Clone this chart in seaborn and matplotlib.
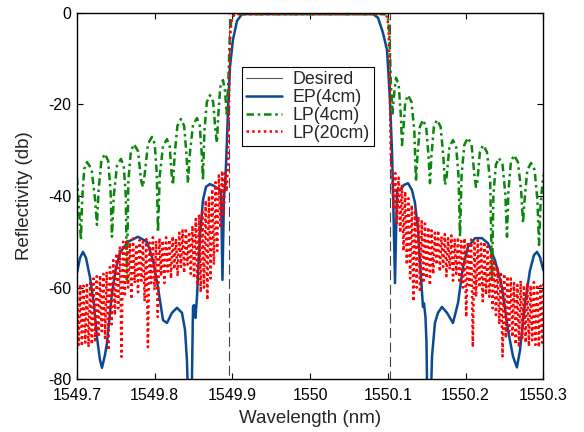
import numpy as np
import pandas as pd
import matplotlib
matplotlib.use("Agg")
import matplotlib.pyplot as plt
from matplotlib.lines import Line2D
import seaborn as sns

# ---- data (wavelength in nm, reflectivity in dB) ----

# ideal rectangular response (-inf outside the band, drawn below the axis)
DESIRED_X = [1549.8960, 1549.8960, 1550.1025, 1550.1025]
DESIRED_Y = [-100, 0, 0, -100]

# EP(4cm)
EP_X = [1549.7000, 1549.7039, 1549.7077, 1549.7116, 1549.7167, 1549.7219, 1549.7257,
        1549.7296, 1549.7322, 1549.7360, 1549.7386, 1549.7450, 1549.7502, 1549.7553,
        1549.7656, 1549.7785, 1549.7901, 1549.7978, 1549.8042, 1549.8107, 1549.8158,
        1549.8222, 1549.8287, 1549.8351, 1549.8390, 1549.8415, 1549.8435, 1549.8473,
        1549.8486, 1549.8493, 1549.8505, 1549.8525, 1549.8544, 1549.8583, 1549.8621,
        1549.8660, 1549.8711, 1549.8763, 1549.8801, 1549.8853, 1549.8872, 1549.8891,
        1549.8911, 1549.8930, 1549.8943, 1549.8969, 1549.9007, 1549.9059, 1549.9123,
        1550.0809, 1550.0873, 1550.0937, 1550.0989, 1550.1027, 1550.1053, 1550.1066,
        1550.1092, 1550.1117, 1550.1156, 1550.1208, 1550.1259, 1550.1310, 1550.1349,
        1550.1388, 1550.1426, 1550.1452, 1550.1465, 1550.1484, 1550.1497, 1550.1510,
        1550.1548, 1550.1568, 1550.1606, 1550.1645, 1550.1696, 1550.1761, 1550.1838,
        1550.1902, 1550.1967, 1550.2031, 1550.2121, 1550.2211, 1550.2288, 1550.2378,
        1550.2468, 1550.2546, 1550.2610, 1550.2661, 1550.2700, 1550.2764, 1550.2829,
        1550.2880, 1550.2919, 1550.2957, 1550.3000]
EP_Y = [-56.8, -53.5, -52.2, -53.5, -57.7, -63.8, -70.8,
        -75.8, -77.5, -74.7, -72.1, -61.2, -55.7, -52.4,
        -50.0, -48.9, -50.0, -54.0, -59.9, -67.1, -67.7,
        -65.5, -64.4, -65.5, -69.2, -75.8, -88.0, -88.0,
        -72.0, -64.2, -63.8, -66.6, -62.0, -48.5, -40.9,
        -38.0, -37.4, -37.8, -38.3, -38.7, -58.3, -40.5,
        -36.0, -27.8, -21.2, -11.8, -5.9, -1.8, -0.3,
        -0.3, -1.1, -4.4, -8.1, -19.0, -30.0, -38.7,
        -59.0, -38.7, -38.7, -37.6, -37.2, -38.7, -41.5,
        -47.4, -57.7, -64.2, -63.4, -66.4, -72.0, -88.0,
        -88.0, -75.0, -67.7, -65.5, -64.2, -65.5, -67.7,
        -63.4, -55.5, -51.1, -49.2, -49.2, -50.3, -54.0,
        -59.9, -69.3, -75.0, -77.4, -73.7, -63.4, -56.2,
        -52.9, -52.2, -53.3, -56.2]

# LP(4cm)
LP4_X = [1549.7000, 1549.7051, 1549.7067, 1549.7094, 1549.7129, 1549.7187, 1549.7232,
         1549.7257, 1549.7278, 1549.7314, 1549.7360, 1549.7401, 1549.7432, 1549.7450,
         1549.7474, 1549.7515, 1549.7566, 1549.7601, 1549.7628, 1549.7643, 1549.7661,
         1549.7694, 1549.7733, 1549.7785, 1549.7826, 1549.7849, 1549.7872, 1549.7914,
         1549.7965, 1549.8000, 1549.8027, 1549.8042, 1549.8065, 1549.8107, 1549.8158,
         1549.8193, 1549.8220, 1549.8235, 1549.8256, 1549.8292, 1549.8338, 1549.8379,
         1549.8410, 1549.8428, 1549.8451, 1549.8493, 1549.8544, 1549.8579, 1549.8606,
         1549.8621, 1549.8639, 1549.8671, 1549.8711, 1549.8753, 1549.8783, 1549.8801,
         1549.8817, 1549.8844, 1549.8879, 1549.8904, 1549.8926, 1549.8945, 1549.8956,
         1549.8966, 1549.8985, 1549.9030,
         1550.0960, 1550.1005, 1550.1020, 1550.1030, 1550.1040, 1550.1060, 1550.1085,
         1550.1105, 1550.1139, 1550.1166, 1550.1182, 1550.1197, 1550.1224, 1550.1259,
         1550.1305, 1550.1341, 1550.1362, 1550.1380, 1550.1412, 1550.1452, 1550.1493,
         1550.1524, 1550.1542, 1550.1560, 1550.1592, 1550.1632, 1550.1679, 1550.1714,
         1550.1735, 1550.1756, 1550.1792, 1550.1838, 1550.1879, 1550.1910, 1550.1928,
         1550.1949, 1550.1985, 1550.2031, 1550.2077, 1550.2113, 1550.2134, 1550.2152,
         1550.2184, 1550.2224, 1550.2275, 1550.2317, 1550.2340, 1550.2358, 1550.2390,
         1550.2430, 1550.2476, 1550.2512, 1550.2533, 1550.2551, 1550.2583, 1550.2623,
         1550.2674, 1550.2716, 1550.2739, 1550.2759, 1550.2795, 1550.2842, 1550.2888,
         1550.2924, 1550.2945, 1550.2964, 1550.3000]
LP4_Y = [-35.9, -49.6, -40.6, -34.1, -32.6, -34.1, -40.6,
         -46.3, -38.8, -32.3, -30.8, -32.3, -38.8, -48.9,
         -39.9, -33.4, -31.9, -33.4, -39.9, -58.3, -36.7,
         -30.2, -28.7, -30.2, -36.7, -38.0, -35.1, -28.6,
         -27.1, -28.6, -35.1, -47.9, -35.6, -29.1, -27.6,
         -29.1, -35.6, -37.6, -31.2, -24.7, -23.2, -24.7,
         -31.2, -37.2, -31.0, -24.5, -23.0, -24.5, -31.0,
         -36.5, -26.0, -19.5, -18.0, -19.5, -26.0, -28.4,
         -22.7, -16.2, -14.7, -17.0, -22.0, -16.0, -10.0,
         -5.0, -1.5, -0.3,
         -0.3, -1.5, -5.0, -10.0, -16.0, -22.0, -17.0,
         -14.2, -15.7, -22.2, -28.9, -26.0, -19.5, -18.0,
         -19.5, -26.0, -36.9, -31.4, -24.9, -23.4, -24.9,
         -31.4, -37.2, -31.4, -24.9, -23.4, -24.9, -31.4,
         -37.6, -35.8, -29.3, -27.8, -29.3, -35.8, -48.9,
         -35.3, -28.8, -27.3, -28.8, -35.3, -38.0, -36.9,
         -30.4, -28.9, -30.4, -36.9, -58.3, -39.7, -33.2,
         -31.7, -33.2, -39.7, -48.9, -39.1, -32.6, -31.1,
         -32.6, -39.1, -45.9, -40.8, -34.3, -32.8, -34.3,
         -40.8, -50.7, -42.0, -35.4]

# LP(20cm): fast ripple, read as (top, bottom) per ripple period on each side
LP20_LEFT_RANGE = (1549.7000, 1549.8889)
LP20_LEFT_Y = [-59.5, -72.5, -59.3, -72.8, -59.6, -72.0, -59.4, -73.0, -59.0, -72.4,
               -58.0, -71.5, -57.5, -70.8, -57.3, -69.5, -57.0, -71.0, -56.5, -73.7,
               -55.5, -68.0, -54.0, -66.0, -52.5, -64.5, -51.0, -75.1, -50.0, -62.0,
               -49.5, -60.0, -50.2, -62.5, -49.3, -59.0, -50.5, -61.0, -49.6, -58.5,
               -50.0, -63.0, -49.4, -73.0, -50.2, -59.0, -49.0, -60.5, -49.8, -66.4,
               -49.2, -57.5, -49.7, -59.0, -49.0, -56.5, -49.5, -58.0, -48.8, -56.0,
               -49.3, -57.5, -48.0, -55.5, -47.5, -56.8, -47.0, -55.0, -47.8, -57.0,
               -46.5, -58.0, -45.0, -59.5, -44.0, -61.0, -43.0, -60.0, -41.0, -62.7,
               -40.0, -58.0, -38.5, -55.0, -37.0, -52.0, -35.5, -47.0, -34.5, -44.0]
LP20_MID_X = [1549.8904, 1549.8925, 1549.8943, 1549.8956, 1549.8964, 1549.8975,
              1549.8994, 1549.9030, 1550.0960, 1550.0995, 1550.1010, 1550.1020,
              1550.1028, 1550.1040]
LP20_MID_Y = [-35.0, -39.0, -33.0, -20.0, -10.0, -4.0,
              -1.0, -0.3, -0.3, -1.0, -4.0, -10.0,
              -20.0, -33.0]
LP20_RIGHT_RANGE = (1550.1053, 1550.2985)
LP20_RIGHT_Y = [-34.0, -43.0, -35.0, -46.0, -36.0, -48.0, -37.5, -52.0, -39.0, -55.0,
                -40.5, -58.0, -42.0, -63.0, -43.0, -60.0, -44.5, -61.0, -45.5, -59.0,
                -46.0, -58.0, -46.8, -59.5, -47.5, -57.0, -48.0, -55.0, -47.5, -56.5,
                -48.8, -55.5, -48.3, -57.5, -49.2, -56.0, -48.6, -58.5, -49.5, -57.0,
                -49.0, -59.0, -49.8, -60.0, -49.2, -66.4, -50.0, -59.5, -49.5, -73.0,
                -50.2, -62.0, -49.6, -60.0, -50.4, -63.0, -50.0, -61.5, -51.0, -62.0,
                -52.5, -64.5, -54.0, -66.0, -55.5, -68.0, -56.5, -75.0, -57.0, -71.0,
                -57.5, -69.5, -58.0, -70.8, -59.0, -72.4, -59.4, -73.0, -58.5, -71.0,
                -59.5, -72.0, -59.0, -72.8, -59.5, -71.5, -58.8, -72.5, -59.3, -73.0,
                -59.6, -72.0]
LP20_END = (1550.3000, -59.0)

XTICKS = [1549.7, 1549.8, 1549.9, 1550.0, 1550.1, 1550.2, 1550.3]
XTICK_LABELS = ["1549.7", "1549.8", "1549.9", "1550", "1550.1", "1550.2", "1550.3"]
YTICKS = [-80, -60, -40, -20, 0]
YTICK_LABELS = ["-80", "-60", "-40", "-20", "0"]

# ---- assemble the ripple series on its sampling grid ----
lp20_x = np.concatenate([
    np.linspace(*LP20_LEFT_RANGE, len(LP20_LEFT_Y)),
    LP20_MID_X,
    np.linspace(*LP20_RIGHT_RANGE, len(LP20_RIGHT_Y)),
    [LP20_END[0]],
])
lp20_y = np.concatenate([LP20_LEFT_Y, LP20_MID_Y, LP20_RIGHT_Y, [LP20_END[1]]])

sns.set_style("ticks")
plt.rcParams["font.family"] = ["Liberation Sans", "DejaVu Sans"]
plt.rcParams["axes.unicode_minus"] = False

fig = plt.figure(figsize=(5.84, 4.32), dpi=100)
ax = fig.add_axes([0.1318, 0.122, 0.7985, 0.8486])

sns.lineplot(x=DESIRED_X, y=DESIRED_Y, ax=ax, sort=False, estimator=None,
             color="#444444", lw=0.8, linestyle=(0, (9, 4)), label="Desired")
sns.lineplot(x=EP_X, y=EP_Y, ax=ax, sort=False, estimator=None,
             color="#0b4a92", lw=1.8, label="EP(4cm)")
sns.lineplot(x=LP4_X, y=LP4_Y, ax=ax, sort=False, estimator=None,
             color="#0a870a", lw=1.8, linestyle=(0, (3, 1.5, 1, 1.5)), label="LP(4cm)")
sns.lineplot(x=lp20_x, y=lp20_y, ax=ax, sort=False, estimator=None,
             color="#ff0000", lw=1.8, linestyle=(0, (1, 1.3)), label="LP(20cm)")

ax.set_xlim(1549.7, 1550.3)
ax.set_ylim(-80, 0)
ax.set_xticks(XTICKS)
ax.set_xticklabels(XTICK_LABELS)
ax.set_yticks(YTICKS)
ax.set_yticklabels(YTICK_LABELS)
ax.tick_params(direction="in", top=True, right=True, length=4, width=0.8,
               labelsize=11.5, colors="black")
ax.tick_params(axis="x", pad=6.5)
ax.tick_params(axis="y", pad=4)
for s in ax.spines.values():
    s.set_visible(True)
    s.set_linewidth(1.0)
    s.set_color("black")

ax.set_xlabel("Wavelength (nm)", fontsize=13.5, labelpad=5)
ax.set_ylabel("Reflectivity (db)", fontsize=13.5, labelpad=11)

handles, labels = ax.get_legend_handles_labels()
handles[0] = Line2D([], [], color="#555555", lw=0.8)
leg = ax.legend(handles, labels, loc="upper left", bbox_to_anchor=(0.354, 0.852),
                borderaxespad=0, fontsize=12.8, frameon=True, fancybox=False,
                framealpha=1, edgecolor="black", handlelength=2.0,
                handletextpad=0.6, labelspacing=0.04, borderpad=0.25)
leg.get_frame().set_linewidth(0.8)

fig.savefig("out.png", dpi=100)
